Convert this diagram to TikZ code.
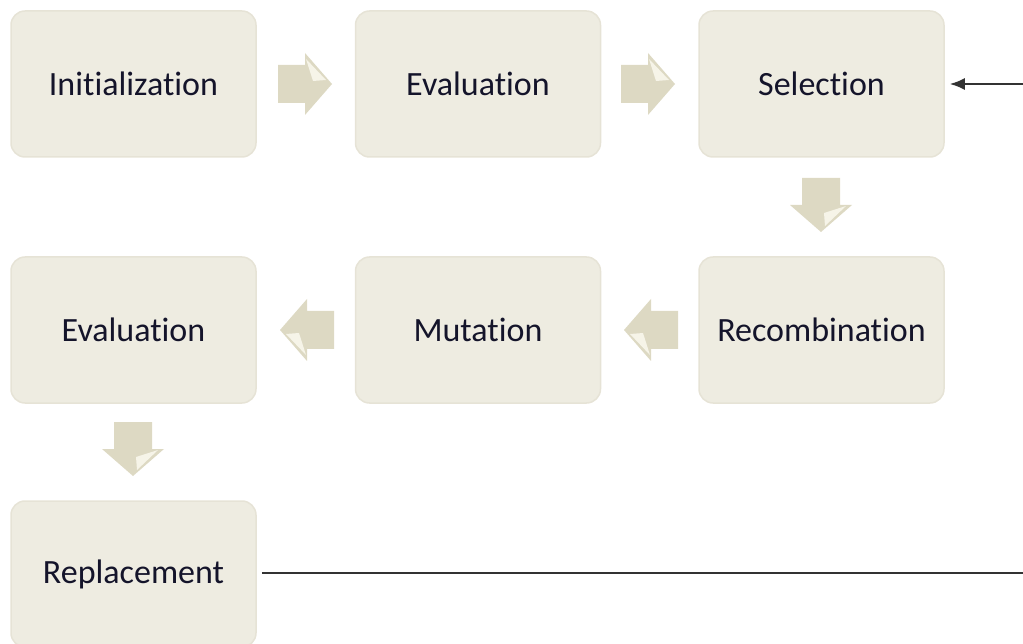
\documentclass[tikz,border=0pt]{standalone}
\usepackage{fontspec}
\usetikzlibrary{arrows.meta}
\setmainfont{Carlito}[Ligatures=NoCommon]
\definecolor{boxfill}{HTML}{EEECE1}
\definecolor{boxedge}{HTML}{E6E3D6}
\definecolor{arrowfill}{HTML}{DDD9C3}
\definecolor{arrowlight}{HTML}{F6F4E8}
\definecolor{txt}{HTML}{14142A}
\definecolor{linecol}{HTML}{333333}
\begin{document}
\begin{tikzpicture}[x=1pt,y=-1pt,
  stepbox/.style={rectangle, rounded corners=14pt, fill=boxfill, draw=boxedge, line width=1.5pt,
    minimum width=245pt, minimum height=146pt, inner sep=0pt,
    font=\fontsize{34}{40}\selectfont, text=txt},
  conn/.style={draw=linecol, line width=2pt},
  barrow/.pic={
    \fill[arrowfill] (-27,-19) -- (0,-19) -- (0,-31) -- (27,0) -- (0,31) -- (0,19) -- (-27,19) -- cycle;
    \fill[arrowlight] (1,-25) -- (21,-4) -- (8,-3) -- cycle;
  }]
\useasboundingbox (0,0) rectangle (1023,644);
\node[stepbox] (init) at (133.5,84) {Initialization};
\node[stepbox] (eval1) at (478,84) {Evaluation};
\node[stepbox] (sel) at (821.5,84) {Selection};
\node[stepbox] (rec) at (821.5,330) {Recombination};
\node[stepbox] (mut) at (478,330) {Mutation};
\node[stepbox] (eval2) at (133.5,330) {Evaluation};
\node[stepbox] (rep) at (133.5,574) {Replacement};
% block arrows
\pic at (305,84) {barrow};
\pic at (648,84) {barrow};
\pic[rotate=-90] at (821,205) {barrow};
\pic[rotate=180] at (651,330) {barrow};
\pic[rotate=180] at (307,330) {barrow};
\pic[rotate=-90] at (133,449) {barrow};
% feedback connector
\coordinate (fbend) at (1023,573);
\coordinate (fbstart) at (1023,84);
\draw[conn] ([xshift=5pt,yshift=1pt]rep.east) -- (fbend);
\draw[conn, -{Latex[length=15pt,width=12pt]}] (fbstart) -- ([xshift=5pt]sel.east);
\end{tikzpicture}
\end{document}
